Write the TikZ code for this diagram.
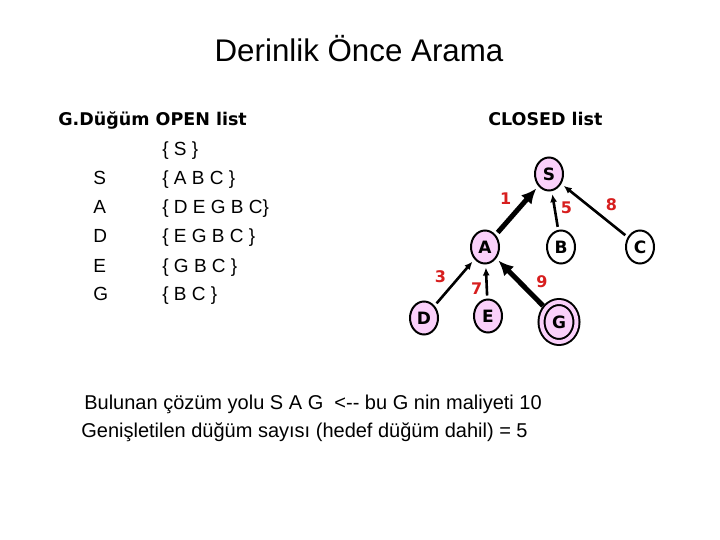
\documentclass[tikz,border=0pt]{standalone}
\usepackage{fontspec}
\setmainfont{Liberation Sans}
\newfontfamily\headfont{DejaVu Sans}
\usetikzlibrary{shapes.geometric,arrows.meta}

\definecolor{nodepink}{RGB}{250,208,250}
\definecolor{costred}{RGB}{215,30,30}

\begin{document}
\begin{tikzpicture}[x=1pt,y=-1pt,->,>={Latex[length=8pt,width=7pt]},shorten >=3pt,shorten <=3pt,auto,
      line width=2pt,
      main node/.style={ellipse,draw,fill=nodepink,minimum width=28pt,minimum height=33pt,
        inner sep=0pt,font=\headfont\bfseries\fontsize{17}{17}\selectfont},
      goal node/.style={main node,double=nodepink,double distance=4pt,
        minimum width=35pt,minimum height=40pt},
      tree edge/.style={line width=2.6pt},
      path edge/.style={line width=5pt,-{Latex[length=15pt,width=14pt]}},
      head text/.style={anchor=base west,font=\headfont\bfseries\fontsize{17.5}{17.5}\selectfont},
      list text/.style={anchor=base west,font=\fontsize{19}{19}\selectfont}]
    \useasboundingbox (0,0) rectangle (720,540);

    % title
    \node[font=\fontsize{31.3}{31.3}\selectfont,anchor=base] (title) at (359,62) {Derinlik Önce Arama};

    % open list
    \node[head text] (openhead) at (54,126) {G.Düğüm OPEN list};
    \node[list text] (open0) at (158,156) {\{ S \}};
    \node[list text] (nS) at (89,185) {S};
    \node[list text] (open1) at (158,185) {\{ A B C \}};
    \node[list text] (nA) at (89,214) {A};
    \node[list text] (open2) at (158,214) {\{ D E G B C\}};
    \node[list text] (nD) at (89,243) {D};
    \node[list text] (open3) at (158,243) {\{ E G B C \}};
    \node[list text] (nE) at (89,272) {E};
    \node[list text] (open4) at (158,272) {\{ G B C \}};
    \node[list text] (nG) at (89,300) {G};
    \node[list text] (open5) at (158,300) {\{ B C \}};

    % closed list
    \node[head text] (closedhead) at (484,126) {CLOSED list};
    \node[main node] (S) at (549,174) {S};
    \node[main node] (A) at (485,247) {A};
    \node[main node, fill=white] (B) at (561,247) {B};
    \node[main node, fill=white] (C) at (640,247) {C};
    \node[main node] (D) at (424,318) {D};
    \node[main node] (E) at (488,316) {E};
    \node[goal node] (G) at (559,322) {G};
    \path[every node/.style={font=\headfont\bfseries\fontsize{16}{16}\selectfont,text=costred}]
    (A) edge[path edge] node {1} (S)
    (B) edge[tree edge,swap] node[pos=.3] {5} (S)
    (C) edge[tree edge,swap] node[pos=.4] {8} (S)
    (D) edge[tree edge] node[pos=.4] {3} (A)
    (E) edge[tree edge] node[pos=.3] {7} (A)
    (G) edge[path edge,swap] node[pos=.3] {9} (A)
    ;

    % result
    \node[anchor=base west,font=\fontsize{20}{20}\selectfont] (result) at (80,409)
      {Bulunan çözüm yolu S A G\ \ <-{}- bu G nin maliyeti 10};
    \node[anchor=base west,font=\fontsize{20}{20}\selectfont] (count) at (77,437)
      {Genişletilen düğüm sayısı (hedef düğüm dahil) = 5};
  \end{tikzpicture}
\end{document}
